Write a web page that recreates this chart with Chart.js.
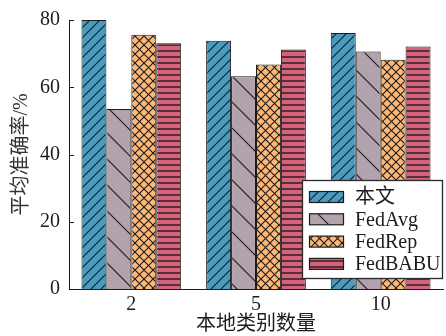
<!DOCTYPE html>
<html>
<head>
<meta charset="utf-8">
<script src="https://cdn.jsdelivr.net/npm/chart.js@4.4.1/dist/chart.umd.min.js"></script>
<style>
  html, body { margin: 0; padding: 0; background: #fff; }
  #wrap { width: 446px; height: 336px; }
</style>
</head>
<body>
<div id="wrap"><canvas id="c" width="446" height="336"></canvas></div>
<script>
// Average accuracy (%) by number of local classes
const categories = ['2', '5', '10'];
const seriesNames = ['本文', 'FedAvg', 'FedRep', 'FedBABU'];
const oursValues = [80.0, 73.8, 76.1];
const fedAvgValues = [53.5, 63.3, 70.6];
const fedRepValues = [75.6, 66.8, 68.2];
const fedBabuValues = [73.1, 71.2, 72.1];
const yTicks = [0, 20, 40, 60, 80];

const FONT = "'Liberation Serif', 'Times New Roman', 'Noto Sans CJK SC', serif";
const INK = '#1c1c1c';

// Hatched fills built on small offscreen tiles
function makeTile(size, base, draw) {
  const t = document.createElement('canvas');
  t.width = size; t.height = size;
  const g = t.getContext('2d');
  g.fillStyle = base;
  g.fillRect(0, 0, size, size);
  g.strokeStyle = INK;
  g.lineCap = 'square';
  draw(g, size);
  return document.getElementById('c').getContext('2d').createPattern(t, 'repeat');
}
function forwardDiag(g, s) {
  g.beginPath();
  g.moveTo(0, s); g.lineTo(s, 0);
  g.moveTo(-s / 2, s / 2); g.lineTo(s / 2, -s / 2);
  g.moveTo(s / 2, s * 1.5); g.lineTo(s * 1.5, s / 2);
  g.stroke();
}
function backDiag(g, s) {
  g.beginPath();
  g.moveTo(0, 0); g.lineTo(s, s);
  g.moveTo(-s / 2, s / 2); g.lineTo(s / 2, s * 1.5);
  g.moveTo(s / 2, -s / 2); g.lineTo(s * 1.5, s / 2);
  g.stroke();
}

const fills = [
  makeTile(10, '#4b9bbf', (g, s) => { g.lineWidth = 1.1; forwardDiag(g, s); }),
  makeTile(26, '#b2a2ad', (g, s) => { g.lineWidth = 1.1; backDiag(g, s); }),
  makeTile(9, '#fdb877', (g, s) => { g.lineWidth = 1.1; forwardDiag(g, s); backDiag(g, s); }),
  makeTile(6, '#d8617b', (g, s) => {
    g.lineWidth = 1.4;
    g.beginPath(); g.moveTo(0, 3); g.lineTo(s, 3); g.stroke();
  })
];

const seriesValues = [oursValues, fedAvgValues, fedRepValues, fedBabuValues];
const datasets = seriesNames.map((name, i) => ({
  label: name,
  data: seriesValues[i],
  backgroundColor: fills[i],
  borderColor: INK,
  borderWidth: 1,
  borderSkipped: 'start'
}));

// Short tick marks pointing into the plot from the y axis
const inwardTicks = {
  id: 'inwardTicks',
  afterDatasetsDraw(chart) {
    const { ctx } = chart;
    const y = chart.scales.y;
    ctx.save();
    ctx.strokeStyle = INK;
    ctx.lineWidth = 1;
    yTicks.forEach(v => {
      const py = Math.round(y.getPixelForValue(v)) + 0.5;
      ctx.beginPath();
      ctx.moveTo(y.right, py);
      ctx.lineTo(y.right + 5, py);
      ctx.stroke();
    });
    ctx.restore();
  }
};

// Boxed legend inside the lower-right of the plot
const boxLegend = {
  id: 'boxLegend',
  afterDraw(chart) {
    const { ctx } = chart;
    const bx = 302.5, by = 180.5, bw = 140, bh = 98;
    ctx.save();
    ctx.fillStyle = '#fff';
    ctx.fillRect(bx, by, bw, bh);
    ctx.strokeStyle = '#2a2a2a';
    ctx.lineWidth = 1.3;
    ctx.strokeRect(bx, by, bw, bh);
    chart.data.datasets.forEach((ds, i) => {
      const cy = 197 + i * 22.3;
      ctx.fillStyle = ds.backgroundColor;
      ctx.fillRect(309.5, cy - 5.5, 34, 11);
      ctx.strokeStyle = INK;
      ctx.lineWidth = 1.2;
      ctx.strokeRect(309.5, cy - 5.5, 34, 11);
      ctx.fillStyle = INK;
      ctx.font = '20px ' + FONT;
      ctx.textBaseline = 'middle';
      ctx.textAlign = 'left';
      ctx.fillText(ds.label, 355, cy + 1);
    });
    ctx.restore();
  }
};

new Chart(document.getElementById('c'), {
  type: 'bar',
  data: { labels: categories, datasets },
  options: {
    responsive: false,
    animation: false,
    devicePixelRatio: 1,
    layout: { padding: { top: 20, right: 3, bottom: 0, left: 0 } },
    plugins: { legend: { display: false }, tooltip: { enabled: false } },
    datasets: { bar: { categoryPercentage: 0.8, barPercentage: 1.0 } },
    scales: {
      x: {
        grid: { display: false, drawTicks: false },
        border: { display: true, color: INK, width: 1 },
        ticks: { color: INK, font: { family: FONT, size: 20 }, padding: 4 },
        title: {
          display: true, text: '本地类别数量', color: INK,
          font: { family: FONT, size: 20, lineHeight: 1.1 },
          padding: { top: 0, bottom: 0 }
        },
        afterFit(s) { s.height = 47; s.paddingLeft = 0; s.paddingRight = 0; }
      },
      y: {
        min: 0, max: 80,
        afterBuildTicks(s) { s.ticks = yTicks.map(v => ({ value: v })); },
        grid: { display: false, drawTicks: false },
        border: { display: true, color: INK, width: 1 },
        ticks: { color: INK, font: { family: FONT, size: 20 }, padding: 9 },
        title: {
          display: true, text: '平均准确率/%', color: '#333',
          font: { family: FONT, size: 20, lineHeight: 1.1 },
          padding: { top: 11, bottom: 0 }
        },
        afterFit(s) { s.width = 69; s.paddingTop = 0; s.paddingBottom = 0; }
      }
    }
  },
  plugins: [inwardTicks, boxLegend]
});
</script>
</body>
</html>
